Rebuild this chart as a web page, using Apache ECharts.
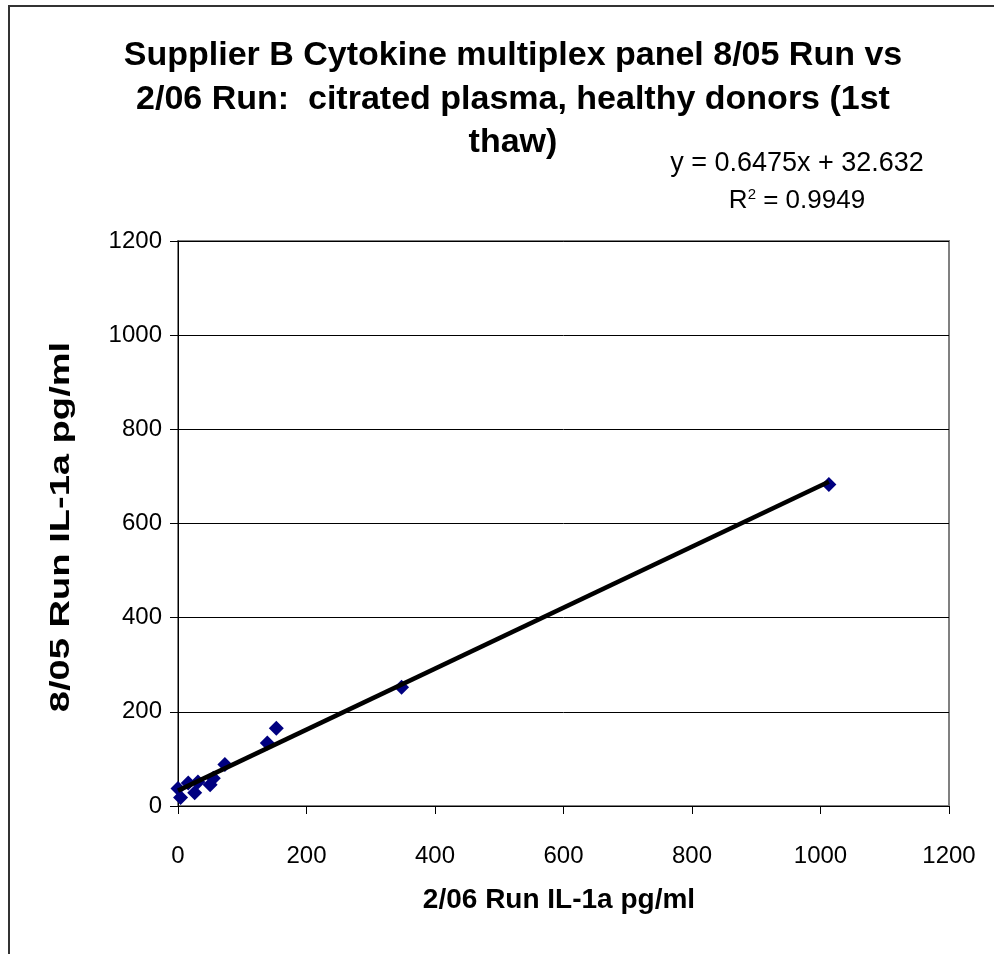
<!DOCTYPE html>
<html>
<head>
<meta charset="utf-8">
<script src="https://cdn.jsdelivr.net/npm/echarts@6/dist/echarts.min.js"></script>
<style>
html,body{margin:0;padding:0;background:#fff;}
#chart{width:994px;height:954px;}
</style>
</head>
<body>
<div id="chart"></div>
<script>
// Data
const run0206 = [0, 4, 16, 26, 31, 50, 55, 73, 139, 153, 348, 1013];
const run0805 = [37, 18, 49, 28, 51, 45, 59, 88, 134, 165, 252, 683];
const slope = 0.6475;
const intercept = 32.632;
const rSquared = 0.9949;
const trendRange = [0, 1013];
const xTicks = [0, 200, 400, 600, 800, 1000, 1200];
const yTicks = [0, 200, 400, 600, 800, 1000, 1200];

const titleLines = [
  'Supplier B Cytokine multiplex panel 8/05 Run vs',
  '2/06 Run:  citrated plasma, healthy donors (1st',
  'thaw)'
];
const xTitle = '2/06 Run IL-1a pg/ml';
const yTitle = '8/05 Run IL-1a pg/ml';

const points = run0206.map((x, i) => [x, run0805[i]]);
const trend = trendRange.map(x => [x, slope * x + intercept]);

const chart = echarts.init(document.getElementById('chart'), null, {renderer: 'canvas'});
const font = '"Liberation Sans", Arial, sans-serif';

chart.setOption({
  backgroundColor: '#fff',
  animation: false,
  graphic: [
    {type: 'rect', shape: {x: 9, y: 6, width: 1100, height: 1100}, style: {fill: 'none', stroke: '#333', lineWidth: 2}, silent: true, z: -1},
    {type: 'text', x: 513, y: 56, style: {text: titleLines[0], align: 'center', verticalAlign: 'middle', font: 'bold 34px ' + font, fill: '#000'}},
    {type: 'text', x: 513, y: 100, style: {text: titleLines[1], align: 'center', verticalAlign: 'middle', font: 'bold 34px ' + font, fill: '#000'}},
    {type: 'text', x: 513, y: 143, style: {text: titleLines[2], align: 'center', verticalAlign: 'middle', font: 'bold 34px ' + font, fill: '#000'}},
    {type: 'text', x: 797, y: 164, style: {text: 'y = ' + slope + 'x + ' + intercept, align: 'center', verticalAlign: 'middle', font: '27px ' + font, fill: '#000'}},
    {type: 'text', x: 797, y: 201, style: {text: '{a|R}{s|2}{a| = ' + rSquared + '}', align: 'center', verticalAlign: 'middle',
      rich: {a: {fontFamily: font, fontSize: 26, fill: '#000'}, s: {fontFamily: font, fontSize: 15, fill: '#000', padding: [0, 0, 12, 0]}}}},
    {type: 'text', x: 559, y: 900, style: {text: xTitle, align: 'center', verticalAlign: 'middle', font: 'bold 28px ' + font, fill: '#000'}},
    {type: 'text', x: 61, y: 527, rotation: Math.PI / 2, scaleX: 1.36, style: {text: yTitle, align: 'center', verticalAlign: 'middle', font: 'bold 28px ' + font, fill: '#000'}}
  ],
  grid: {left: 178, right: 45, top: 241, bottom: 148, show: true, borderColor: '#808080', borderWidth: 2, backgroundColor: '#fff'},
  xAxis: {
    type: 'value', min: xTicks[0], max: xTicks[xTicks.length - 1], interval: 200,
    axisLine: {show: true, onZero: false, lineStyle: {color: '#000', width: 1}},
    axisTick: {show: true, inside: false, length: 8, lineStyle: {color: '#000'}},
    axisLabel: {fontFamily: font, fontSize: 24, color: '#000', margin: 38, formatter: v => String(v)},
    splitLine: {show: false}
  },
  yAxis: {
    type: 'value', min: yTicks[0], max: yTicks[yTicks.length - 1], interval: 200,
    axisLine: {show: true, onZero: false, lineStyle: {color: '#000', width: 1}},
    axisTick: {show: true, inside: false, length: 8, lineStyle: {color: '#000'}},
    axisLabel: {fontFamily: font, fontSize: 24, color: '#000', margin: 16, formatter: v => String(v)},
    splitLine: {show: true, lineStyle: {color: '#000', width: 1}}
  },
  series: [
    {type: 'scatter', data: points, symbol: 'diamond', symbolSize: 15, itemStyle: {color: '#000080', opacity: 1}, z: 3},
    {type: 'line', data: trend, symbol: 'none', lineStyle: {color: '#000', width: 4.5}, z: 4, silent: true}
  ]
});
</script>
</body>
</html>
